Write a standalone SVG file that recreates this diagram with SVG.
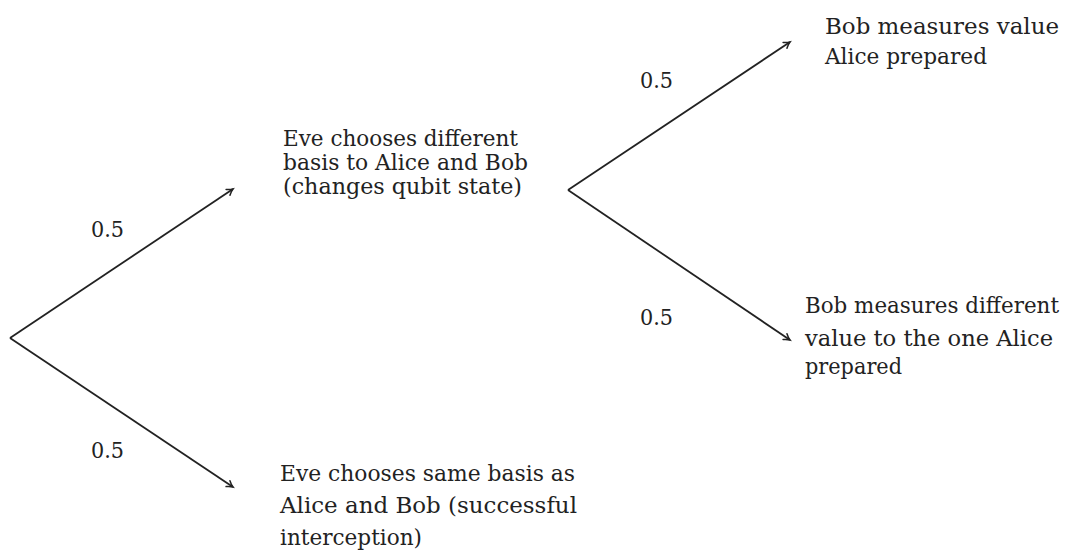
<svg xmlns="http://www.w3.org/2000/svg" width="1069" height="552" viewBox="0 0 1069 552">
<style>
text{font-family:"DejaVu Serif","Liberation Serif","Noto Serif",serif;font-size:23px;fill:#222}
#node-bob-diff text{font-size:21.5px}
.edge{stroke:#222;stroke-width:1.8;fill:none;marker-end:url(#arr)}
</style>
<defs>
<marker id="arr" markerWidth="12" markerHeight="12" refX="9" refY="6" orient="auto" markerUnits="userSpaceOnUse">
<path d="M3,2.5 Q6,5 9,6 Q6,7 3,9.5" fill="none" stroke="#222" stroke-width="1.5" stroke-linecap="round"/>
</marker>
</defs>
<rect width="1069" height="552" fill="#fff"/>
<g id="connectors">
<line class="edge" x1="10" y1="338" x2="233" y2="189"/>
<line class="edge" x1="10" y1="338" x2="233" y2="487"/>
<line class="edge" x1="568" y1="190" x2="790" y2="42"/>
<line class="edge" x1="568" y1="190" x2="790" y2="340"/>
<text x="91" y="237" textLength="33" lengthAdjust="spacingAndGlyphs">0.5</text>
<text x="91" y="458" textLength="33" lengthAdjust="spacingAndGlyphs">0.5</text>
<text x="640" y="88" textLength="33" lengthAdjust="spacingAndGlyphs">0.5</text>
<text x="640" y="325" textLength="33" lengthAdjust="spacingAndGlyphs">0.5</text>
</g>
<g id="node-different">
<text x="283" y="146" textLength="235" lengthAdjust="spacingAndGlyphs">Eve chooses different</text>
<text x="283" y="170" textLength="245" lengthAdjust="spacingAndGlyphs">basis to Alice and Bob</text>
<text x="283" y="194" textLength="239" lengthAdjust="spacingAndGlyphs">(changes qubit state)</text>
</g>
<g id="node-same">
<text x="280" y="481" textLength="295" lengthAdjust="spacingAndGlyphs">Eve chooses same basis as</text>
<text x="280" y="513" textLength="297" lengthAdjust="spacingAndGlyphs">Alice and Bob (successful</text>
<text x="280" y="545" textLength="142" lengthAdjust="spacingAndGlyphs">interception)</text>
</g>
<g id="node-bob-same">
<text x="825" y="34" textLength="234" lengthAdjust="spacingAndGlyphs">Bob measures value</text>
<text x="825" y="64" textLength="162" lengthAdjust="spacingAndGlyphs">Alice prepared</text>
</g>
<g id="node-bob-diff">
<text x="805" y="313" textLength="254" lengthAdjust="spacingAndGlyphs">Bob measures different</text>
<text x="805" y="346" textLength="248" lengthAdjust="spacingAndGlyphs">value to the one Alice</text>
<text x="805" y="374" textLength="97" lengthAdjust="spacingAndGlyphs">prepared</text>
</g>
</svg>
